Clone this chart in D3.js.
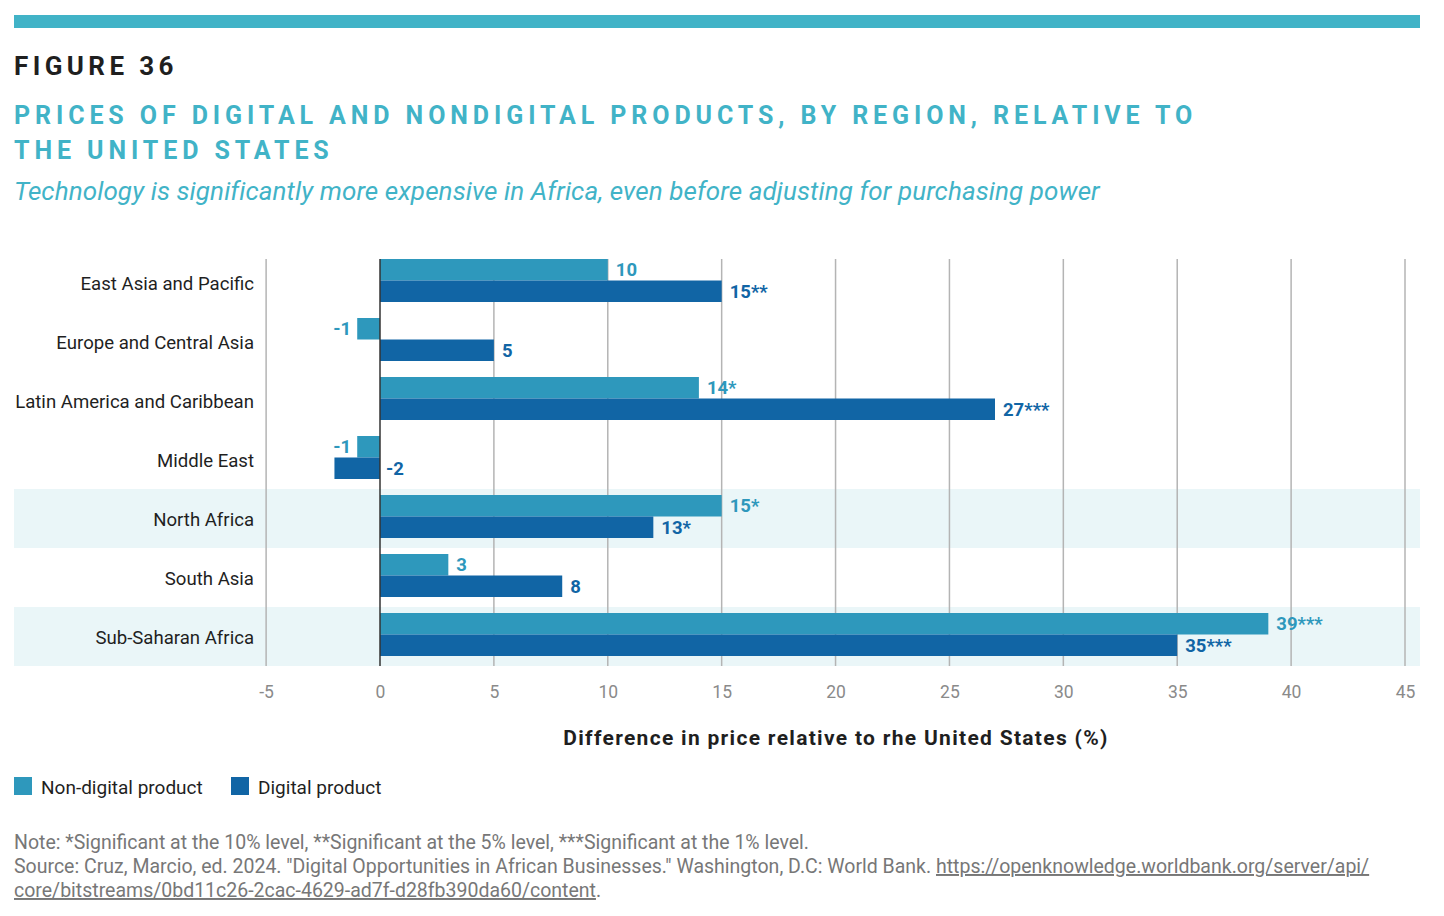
<!DOCTYPE html>
<html>
<head>
<meta charset="utf-8">
<script src="https://cdn.jsdelivr.net/npm/d3@7"></script>
<style>
	body { margin: 0; background: #fff; font-family: Roboto, 'Noto Sans', sans-serif; }
	svg { display: block; }
</style>
</head>
<body>
<svg id="chart" width="1444" height="916"></svg>
<script>
// data
var regions = [
	'East Asia and Pacific',
	'Europe and Central Asia',
	'Latin America and Caribbean',
	'Middle East',
	'North Africa',
	'South Asia',
	'Sub-Saharan Africa'
];
var nonDigital = [10, -1, 14, -1, 15, 3, 39];
var digital = [15, 5, 27, -2, 12, 8, 35];
var nonDigitalLabels = ['10', '-1', '14*', '-1', '15*', '3', '39***'];
var digitalLabels = ['15**', '5', '27***', '-2', '13*', '8', '35***'];
var shadedRegions = ['North Africa', 'Sub-Saharan Africa'];
var xTicks = [-5, 0, 5, 10, 15, 20, 25, 30, 35, 40, 45];
var seriesNames = ['Non-digital product', 'Digital product'];

(function() {
	'use strict';

	var colors = ['#2E98BC', '#1165A5'];
	var teal = '#41B3C7';

	var svg = d3.select('#chart');

	// header
	svg.append('rect').attr('x', 14).attr('y', 15).attr('width', 1406).attr('height', 13).attr('fill', teal);

	svg.append('text').attr('x', 14).attr('y', 75)
		.attr('font-size', 26).attr('font-weight', 700).attr('letter-spacing', 4.4).attr('fill', '#1f1f1f')
		.text('FIGURE 36');

	svg.append('text').attr('x', 14).attr('y', 124)
		.attr('font-size', 25).attr('font-weight', 700).attr('letter-spacing', 4.9).attr('fill', teal)
		.text('PRICES OF DIGITAL AND NONDIGITAL PRODUCTS, BY REGION, RELATIVE TO');
	svg.append('text').attr('x', 14).attr('y', 159)
		.attr('font-size', 25).attr('font-weight', 700).attr('letter-spacing', 4.9).attr('fill', teal)
		.text('THE UNITED STATES');

	svg.append('text').attr('x', 14).attr('y', 200)
		.attr('font-size', 26).attr('font-style', 'italic').attr('letter-spacing', 0.1).attr('fill', teal)
		.text('Technology is significantly more expensive in Africa, even before adjusting for purchasing power');

	// scales
	var x = d3.scaleLinear().domain([0, 45]).range([380, 1405]);
	var y = d3.scaleBand().domain(regions).range([253, 666]);
	var inner = d3.scaleBand().domain([0, 1]).range([0, 43]);
	var barOffset = 6;

	// row shading
	svg.append('g').selectAll('rect')
		.data(shadedRegions)
		.enter().append('rect')
		.attr('x', 14).attr('width', 1406)
		.attr('y', function(d) { return y(d); })
		.attr('height', y.bandwidth())
		.attr('fill', '#EAF6F8');

	// gridlines
	svg.append('g').selectAll('line')
		.data(xTicks.filter(function(t) { return t !== 0; }))
		.enter().append('line')
		.attr('x1', function(d) { return x(d); }).attr('x2', function(d) { return x(d); })
		.attr('y1', 259).attr('y2', 666)
		.attr('stroke', '#b4b4b4').attr('stroke-width', 1.5);

	// bars
	var rows = regions.map(function(r, i) {
		return { region: r, values: [nonDigital[i], digital[i]], labels: [nonDigitalLabels[i], digitalLabels[i]] };
	});

	var groups = svg.append('g').selectAll('g')
		.data(rows)
		.enter().append('g')
		.attr('transform', function(d) { return 'translate(0,' + (y(d.region) + barOffset) + ')'; });

	var bars = groups.selectAll('g')
		.data(function(d) {
			return d.values.map(function(v, k) { return { value: v, label: d.labels[k], k: k }; });
		})
		.enter().append('g');

	bars.append('rect')
		.attr('x', function(d) { return x(Math.min(0, d.value)); })
		.attr('width', function(d) { return Math.abs(x(d.value) - x(0)); })
		.attr('y', function(d) { return inner(d.k); })
		.attr('height', inner.bandwidth())
		.attr('fill', function(d) { return colors[d.k]; });

	bars.append('text')
		.attr('x', function(d) {
			if (d.value >= 0) return x(d.value) + 8;
			// digital negatives sit right of the zero line
			if (d.k === 1) return x(0) + 6;
			return x(d.value) - 6;
		})
		.attr('text-anchor', function(d) { return (d.value < 0 && d.k === 0) ? 'end' : 'start'; })
		.attr('y', function(d) { return inner(d.k) + inner.bandwidth() / 2; })
		.attr('dy', '0.36em')
		.attr('font-size', 18.5).attr('font-weight', 700)
		.attr('fill', function(d) { return colors[d.k]; })
		.text(function(d) { return d.label; });

	// zero line
	svg.append('line')
		.attr('x1', x(0)).attr('x2', x(0)).attr('y1', 259).attr('y2', 666)
		.attr('stroke', '#333').attr('stroke-width', 1.5);

	// category labels
	svg.append('g').selectAll('text')
		.data(regions)
		.enter().append('text')
		.attr('x', 254)
		.attr('y', function(d) { return y(d) + y.bandwidth() / 2 + 1; })
		.attr('dy', '0.36em')
		.attr('text-anchor', 'end')
		.attr('font-size', 18.6).attr('fill', '#1f1f1f')
		.text(function(d) { return d; });

	// x axis
	var xAxis = svg.append('g')
		.attr('transform', 'translate(0,680)')
		.call(d3.axisBottom(x).tickValues(xTicks).tickFormat(function(d) { return String(d); }).tickSize(0).tickPadding(6));
	xAxis.select('.domain').remove();
	xAxis.selectAll('text').attr('font-size', 17.5).attr('font-family', 'Roboto').attr('fill', '#8a8a8a');

	svg.append('text')
		.attr('x', 836).attr('y', 745)
		.attr('text-anchor', 'middle')
		.attr('font-size', 21).attr('font-weight', 700).attr('letter-spacing', 1.3).attr('fill', '#1f1f1f')
		.text('Difference in price relative to rhe United States (%)');

	// legend
	var legend = svg.append('g').attr('transform', 'translate(14,777)');
	var lx = [0, 217];
	seriesNames.forEach(function(name, i) {
		legend.append('rect').attr('x', lx[i]).attr('y', 0).attr('width', 18).attr('height', 18).attr('fill', colors[i]);
		legend.append('text').attr('x', lx[i] + 27).attr('y', 17)
			.attr('font-size', 19).attr('fill', '#1f1f1f').text(name);
	});

	// notes
	var notes = svg.append('g').attr('font-size', 19.5).attr('fill', '#777');
	notes.append('text').attr('x', 14).attr('y', 849)
		.text('Note: *Significant at the 10% level, **Significant at the 5% level, ***Significant at the 1% level.');
	var src = notes.append('text').attr('x', 14).attr('y', 873);
	src.append('tspan').text('Source: Cruz, Marcio, ed. 2024. "Digital Opportunities in African Businesses." Washington, D.C: World Bank. ');
	src.append('tspan').attr('text-decoration', 'underline').text('https://openknowledge.worldbank.org/server/api/');
	var l3 = notes.append('text').attr('x', 14).attr('y', 897);
	l3.append('tspan').attr('text-decoration', 'underline').text('core/bitstreams/0bd11c26-2cac-4629-ad7f-d28fb390da60/content');
	l3.append('tspan').text('.');
})();
</script>
</body>
</html>
